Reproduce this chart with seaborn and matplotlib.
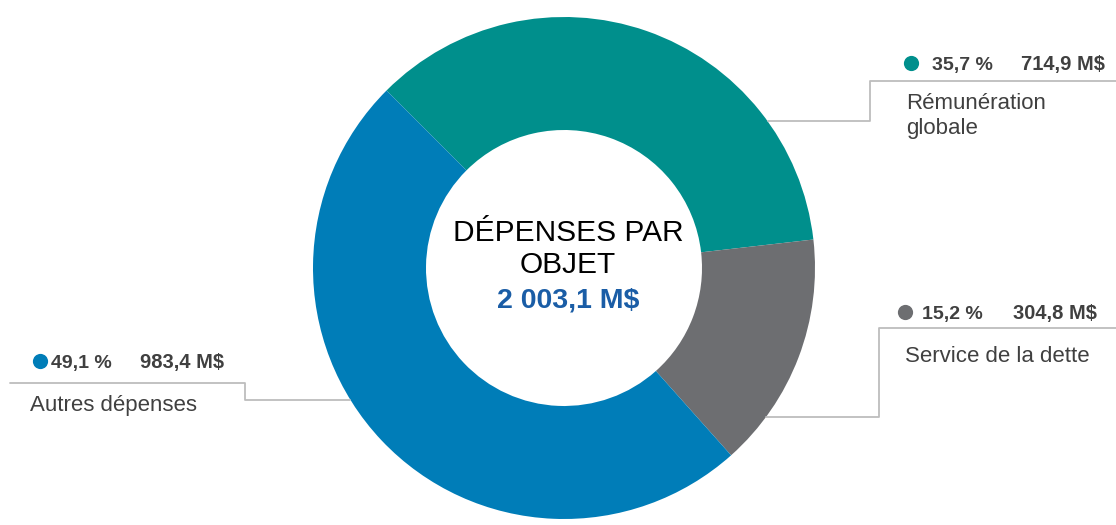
import matplotlib
matplotlib.use("Agg")
import matplotlib.pyplot as plt
import seaborn as sns

sns.set_theme(style="white")
plt.rcParams["font.family"] = ["Liberation Sans", "DejaVu Sans"]

# data
categories = ["Rémunération\nglobale", "Service de la dette", "Autres dépenses"]
amounts = [714.9, 304.8, 983.4]
pct_labels = ["35,7 %", "15,2 %", "49,1 %"]
amount_labels = ["714,9 M$", "304,8 M$", "983,4 M$"]
total_label = "2 003,1 M$"
title_label = "DÉPENSES PAR\nOBJET"

colors = ["#008F8C", "#6D6E71", "#007DB8"]
TXT = "#404040"
LINE = "#BDBDBD"

W, H = 1116, 525
fig = plt.figure(figsize=(W / 100, H / 100), dpi=100)
ax = fig.add_axes([0, 0, 1, 1])

cx, cy, R = 564, 257, 251
ax.pie(amounts, colors=colors, startangle=135, counterclock=False,
       center=(cx, cy), radius=R, frame=True,
       wedgeprops=dict(width=R - 138, linewidth=0))
ax.set_xlim(0, W)
ax.set_ylim(0, H)
ax.set_aspect("equal")
ax.axis("off")

# centre text
ax.text(568, 276, title_label, ha="center", va="center", fontsize=21.5,
        color="black", linespacing=1.2)
ax.text(568, 224, total_label, ha="center", va="center", fontsize=20.5,
        fontweight="bold", color="#1A5DA6")

# leader lines
ax.plot([768, 870, 870, W], [404, 404, 444, 444], color=LINE, lw=1.3)
ax.plot([766, 879, 879, W], [108, 108, 197, 197], color=LINE, lw=1.3)
ax.plot([350, 245, 245, 10], [125, 125, 142, 142], color=LINE, lw=1.3)

# annotations: (dot x, row y, pct x, amount right x, label x, label y)
layout = [
    (911, 462, 932, 1105, 906, 409),
    (905, 213, 922, 1097, 905, 169),
    (40, 164, 51, 224, 30, 119),
]
for i, (dx, ry, px, ax_r, lx, ly) in enumerate(layout):
    ax.scatter([dx], [ry], s=120, color=colors[i], zorder=3, linewidths=0)
    ax.text(px, ry - 7, pct_labels[i], ha="left", va="baseline", fontsize=14,
            fontweight="bold", color=TXT)
    ax.text(ax_r, ry - 7, amount_labels[i], ha="right", va="baseline",
            fontsize=14.5, fontweight="bold", color=TXT)
    ax.text(lx, ly, categories[i], ha="left", va="center", fontsize=16,
            color=TXT, linespacing=1.25)

fig.savefig("out.png", dpi=100)
